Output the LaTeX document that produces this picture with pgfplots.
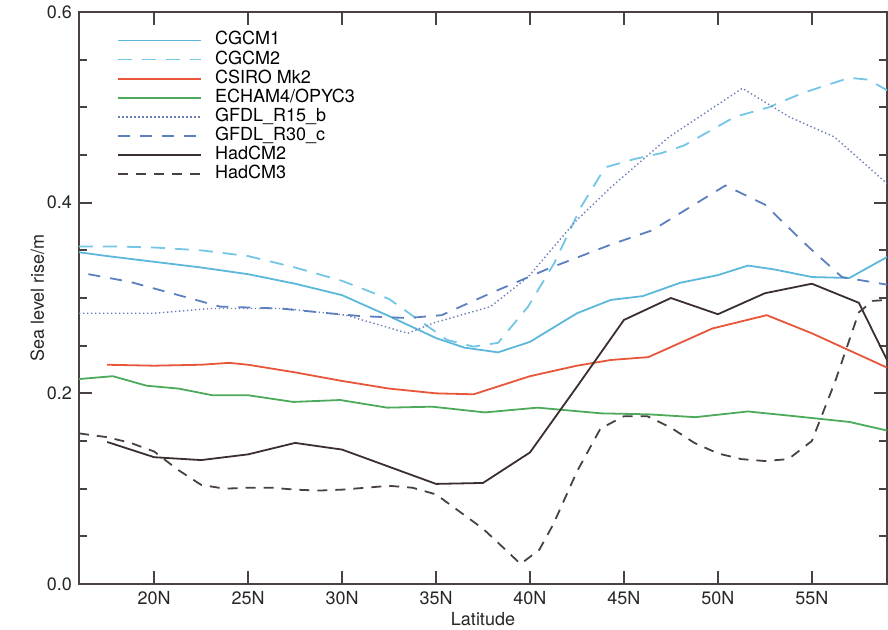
\documentclass[border=0pt]{standalone}
\usepackage{fontspec}
\setmainfont{TeX Gyre Heros}
\usepackage{pgfplots}
\pgfplotsset{compat=1.18}
\definecolor{cg1}{HTML}{5BB8DB}
\definecolor{cg2}{HTML}{74C6E6}
\definecolor{csiro}{HTML}{E8553A}
\definecolor{echam}{HTML}{4DAA5A}
\definecolor{rfifteen}{HTML}{6A7FB8}
\definecolor{rthirty}{HTML}{5C7FC0}
\definecolor{had2}{HTML}{3A2E2E}
\definecolor{had3}{HTML}{4A4040}
\definecolor{axcol}{HTML}{4A4242}
\begin{document}
\begin{tikzpicture}
\path[use as bounding box] (-39.5pt,-22.5pt) rectangle (404.5pt,292pt);
\begin{axis}[
  scale only axis, width=404pt, height=286pt,
  xmin=16, xmax=59, ymin=0, ymax=0.6,
  axis line style={axcol, line width=0.9pt},
  tick style={axcol, line width=0.9pt},
  tick align=inside,
  major tick length=6.5pt, minor tick length=4pt,
  xtick={20,25,30,35,40,45,50,55},
  xticklabels={20N,25N,30N,35N,40N,45N,50N,55N},
  ytick={0,0.2,0.4,0.6},
  minor y tick num=3,
  yticklabel style={/pgf/number format/.cd, fixed, fixed zerofill, precision=1},
  /pgf/number format/assume math mode=true,
  ticklabel style={font=\fontsize{9}{10}\selectfont, text=black!85},
  xlabel={Latitude}, ylabel={Sea level rise/m},
  label style={font=\fontsize{9}{10}\selectfont, text=black!85},
  xlabel style={yshift=3pt},
  ylabel style={yshift=-5.5pt},
  legend cell align=left,
  legend style={at={(rel axis cs:0,1)}, anchor=north west, xshift=19pt, yshift=-9.25pt,
    draw=none, fill=none, inner sep=0pt, row sep=0pt,
    font=\fontsize{9}{10}\selectfont,
    nodes={inner sep=0pt, text height=7pt, text depth=2.55pt},
    /tikz/every odd column/.append style={column sep=6.5pt}},
  legend image code/.code={\draw[#1] (0pt,0pt) -- (41.5pt,0pt);},
  every axis plot/.append style={line width=0.9pt},
]
% CGCM1
\addplot[cg1] coordinates {(16,0.348)(17.5,0.344)(20,0.338)(22.5,0.332)(25,0.325)(27.5,0.315)(30,0.303)(32.5,0.281)(35,0.258)(36.5,0.248)(38.3,0.243)(40,0.254)(42.5,0.284)(44.3,0.298)(46,0.302)(48,0.316)(50,0.324)(51.6,0.334)(53,0.330)(55,0.322)(57,0.321)(59,0.343)};
\addlegendentry{CGCM1}
% CGCM2
\addplot[cg2, dash pattern=on 7pt off 5pt] coordinates {(16,0.354)(18,0.354)(20,0.353)(22.5,0.350)(25,0.344)(27.5,0.332)(30,0.318)(32.5,0.299)(34,0.278)(35.6,0.256)(37,0.249)(38.3,0.253)(39.9,0.291)(41.3,0.337)(42.7,0.395)(44,0.437)(45.6,0.446)(47,0.452)(48.2,0.460)(50.9,0.490)(52.7,0.500)(54.5,0.515)(57,0.531)(58,0.529)(59,0.518)};
\addlegendentry{CGCM2}
% CSIRO
\addplot[csiro] coordinates {(17.5,0.230)(20,0.229)(22.5,0.230)(24,0.232)(25,0.230)(27.5,0.222)(30,0.213)(32.5,0.205)(35,0.200)(37,0.199)(40,0.218)(42.5,0.229)(44.3,0.235)(46.3,0.238)(49.7,0.268)(52.6,0.282)(55,0.263)(59,0.227)};
\addlegendentry{CSIRO Mk2}
% ECHAM4
\addplot[echam] coordinates {(16,0.215)(17.8,0.218)(19.6,0.208)(21.3,0.205)(23.1,0.198)(25,0.198)(27.4,0.191)(29.9,0.193)(32.4,0.185)(34.8,0.186)(37.6,0.180)(40.4,0.185)(43.8,0.179)(46.3,0.178)(48.8,0.175)(51.6,0.181)(54.1,0.176)(57,0.170)(59,0.161)};
\addlegendentry{ECHAM4/OPYC3}
% GFDL R15
\addplot[rfifteen, line width=0.7pt, dash pattern=on 0.7pt off 1.3pt] coordinates {(16,0.284)(20,0.284)(23,0.289)(27,0.289)(30.2,0.282)(33.5,0.263)(34.9,0.274)(37.9,0.291)(39.9,0.322)(42.4,0.380)(44.3,0.416)(47.4,0.469)(51.3,0.520)(53.8,0.490)(56.2,0.469)(59,0.420)};
\addlegendentry{GFDL\_R15\_b}
% GFDL R30
\addplot[rthirty, dash pattern=on 6pt off 5pt] coordinates {(16.5,0.325)(18.7,0.317)(21.3,0.303)(23.5,0.291)(26.7,0.289)(29.3,0.284)(31,0.281)(33.5,0.279)(35.3,0.282)(37.9,0.305)(41,0.331)(44.3,0.356)(46.5,0.371)(50.4,0.418)(52.5,0.398)(54.8,0.354)(56.6,0.322)(59,0.314)};
\addlegendentry{GFDL\_R30\_c}
% HadCM2
\addplot[had2] coordinates {(17.5,0.149)(20,0.133)(22.5,0.130)(25,0.136)(27.5,0.148)(30,0.141)(32.5,0.123)(35,0.105)(37.5,0.106)(40,0.138)(42.5,0.207)(45,0.277)(47.5,0.300)(50,0.283)(52.5,0.305)(55,0.315)(57.5,0.295)(59,0.235)};
\addlegendentry{HadCM2}
% HadCM3
\addplot[had3, dash pattern=on 5pt off 4pt] coordinates {(16,0.158)(17.5,0.154)(18.75,0.148)(20,0.139)(21.25,0.120)(22.5,0.104)(23.75,0.100)(25,0.101)(26.25,0.101)(27.5,0.099)(28.75,0.098)(30,0.099)(31.25,0.101)(32.5,0.103)(33.75,0.101)(35,0.094)(36.25,0.076)(37.5,0.058)(38.75,0.035)(39.5,0.021)(40.5,0.036)(41.25,0.063)(42.5,0.118)(43.75,0.163)(45,0.176)(46.25,0.176)(47.5,0.164)(48.75,0.148)(50,0.137)(51.25,0.131)(52.5,0.129)(53.75,0.131)(55,0.150)(56.25,0.213)(57.5,0.285)(58.25,0.297)(59,0.298)};
\addlegendentry{HadCM3}
\end{axis}
\end{tikzpicture}
\end{document}
